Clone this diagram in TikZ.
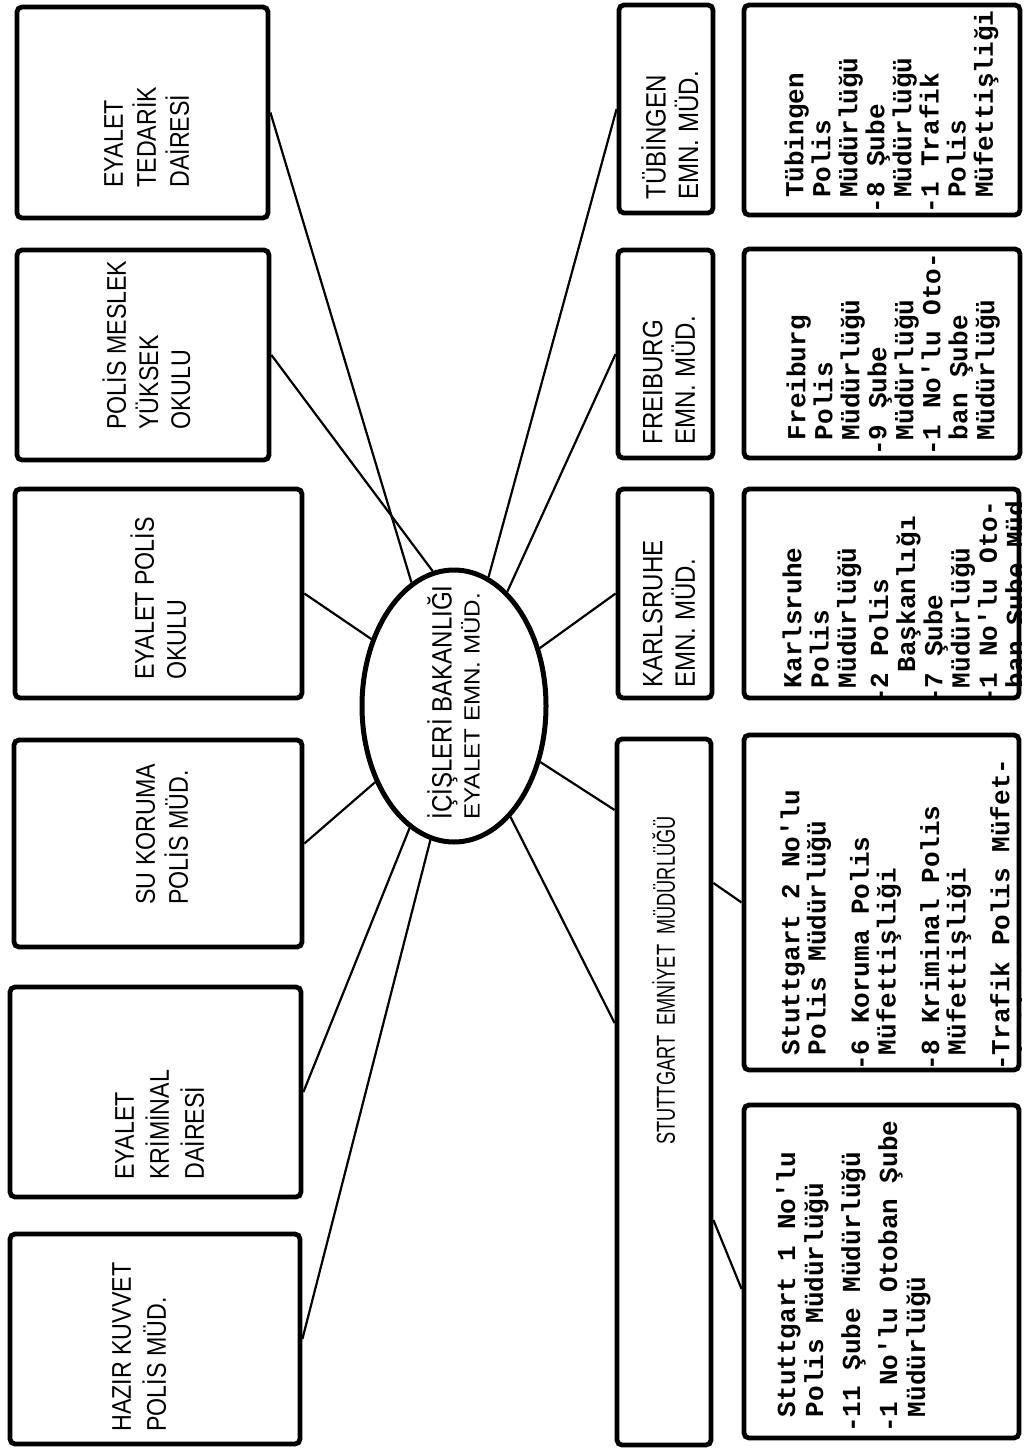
\documentclass[tikz,border=0pt]{standalone}
\usepackage{fontspec}
\usepackage{graphicx}
\setmainfont{Liberation Sans}
\newfontfamily\condf[FakeStretch=0.86]{Liberation Sans}
\newfontfamily\narrowf[FakeStretch=0.7]{Liberation Sans}
\newfontfamily\widef[FakeStretch=1.1]{Liberation Sans}
\newfontfamily\typef{Liberation Mono}
\usetikzlibrary{shapes.geometric,calc}
\newcommand\vtext[1]{\rotatebox{90}{#1}}
\newcommand\hp{\hphantom{-}}
\begin{document}
\begin{tikzpicture}[x=0.5pt,y=-0.5pt,
  box/.style={draw,line width=2.4pt,rounded corners=2.5pt,inner sep=0pt},
  link/.style={line width=1.1pt},
  lab/.style={inner sep=0pt,anchor=south west},
  sanslab/.style={lab,font=\condf\fontsize{13.5}{16}\selectfont},
  sanslabw/.style={lab,font=\condf\fontsize{13.5}{17.5}\selectfont},
  emnlab/.style={lab,font=\condf\fontsize{14}{15}\selectfont},
  typelab/.style={lab,font=\typef\bfseries\fontsize{13}{13.5}\selectfont},
]
\fill[white] (0,0) rectangle (1028,1455);
\useasboundingbox (0,0) rectangle (1028,1455);

% left column boxes
\node[box,minimum width=125.5pt,minimum height=105.5pt] (b1) at (142.5,112.5) {};
\node[box,minimum width=126pt,minimum height=105pt] (b2) at (143,355) {};
\node[box,minimum width=143.5pt,minimum height=104.5pt] (b3) at (158.5,593.5) {};
\node[box,minimum width=144pt,minimum height=103.5pt] (b4) at (158,843.5) {};
\node[box,minimum width=145.5pt,minimum height=105pt] (b5) at (155.5,1092) {};
\node[box,minimum width=145pt,minimum height=105pt] (b6) at (155,1339) {};

\node[sanslab] (b1t) at (100,188) {\vtext{\begin{tabular}{@{}l@{}}EYALET\\TEDARİK\\DAİRESİ\end{tabular}}};
\node[sanslab] (b2t) at (102,430) {\vtext{\begin{tabular}{@{}l@{}}POLİS MESLEK\\YÜKSEK\\OKULU\end{tabular}}};
\node[sanslab] (b3t) at (130,680) {\vtext{\begin{tabular}{@{}l@{}}EYALET POLİS\\OKULU\end{tabular}}};
\node[sanslab] (b4t) at (132,905) {\vtext{\begin{tabular}{@{}l@{}}SU KORUMA\\POLİS MÜD.\end{tabular}}};
\node[sanslabw] (b5t) at (109,1180) {\vtext{\begin{tabular}{@{}l@{}}EYALET\\KRİMİNAL\\DAİRESİ\end{tabular}}};
\node[sanslabw] (b6t) at (106,1432) {\vtext{\begin{tabular}{@{}l@{}}HAZIR KUVVET\\POLİS MÜD.\end{tabular}}};

% central ellipse
\node[draw,ellipse,line width=2.5pt,minimum width=92pt,minimum height=136pt,inner sep=0pt] (ell) at (454,706) {};
\node[lab] (ellt) at (427,820) {\vtext{\fontsize{14}{14}\selectfont\begin{tabular}{@{}l@{}}\condf İÇİŞLERİ BAKANLIĞI\\\widef\fontsize{11}{14}\selectfont EYALET EMN. MÜD.\end{tabular}}};

% emniyet boxes
\node[box,minimum width=47pt,minimum height=104pt] (e1) at (666,109) {};
\node[box,minimum width=47.5pt,minimum height=104pt] (e2) at (665.5,354) {};
\node[box,minimum width=47pt,minimum height=104.5pt] (e3) at (665,593.5) {};
\node[box,minimum width=47pt,minimum height=353pt] (e4) at (664,1092) {};

\node[emnlab] (e1t) at (641,200) {\vtext{\begin{tabular}{@{}l@{}}TÜBİNGEN\\EMN. MÜD.\end{tabular}}};
\node[emnlab] (e2t) at (641,445) {\vtext{\begin{tabular}{@{}l@{}}FREIBURG\\EMN. MÜD.\end{tabular}}};
\node[emnlab] (e3t) at (641,688) {\vtext{\begin{tabular}{@{}l@{}}KARLSRUHE\\EMN. MÜD.\end{tabular}}};
\node[lab,font=\narrowf\fontsize{13}{14}\selectfont] (e4t) at (652,1145) {\vtext{STUTTGART\ \ EMNİYET\ \ MÜDÜRLÜĞÜ}};

% polis boxes
\node[box,minimum width=138pt,minimum height=105pt] (p1) at (882,110) {};
\node[box,minimum width=138pt,minimum height=104.5pt] (p2) at (882,353.5) {};
\node[box,minimum width=137.5pt,minimum height=104.5pt] (p3) at (881.5,593.5) {};
\node[box,minimum width=137.5pt,minimum height=167.5pt] (p4) at (881.5,902.5) {};
\node[box,minimum width=137.5pt,minimum height=166.5pt] (p5) at (881.5,1271.5) {};

\begin{scope}
\clip (p1.south west) rectangle (p1.north east);
\node[typelab] (p1t) at (784,214) {\vtext{\begin{tabular}{@{}l@{}}\hp Tübingen\\\hp Polis\\\hp Müdürlüğü\\-8 Şube\\\hp Müdürlüğü\\-1 Trafik\\\hp Polis\\\hp Müfettişliği\end{tabular}}};
\end{scope}
\begin{scope}
\clip (p2.south west) rectangle (p2.north east);
\node[typelab] (p2t) at (786,456) {\vtext{\begin{tabular}{@{}l@{}}\hp Freiburg\\\hp Polis\\\hp Müdürlüğü\\-9 Şube\\\hp Müdürlüğü\\-1 No'lu Oto-\\\hp ban Şube\\\hp Müdürlüğü\end{tabular}}};
\end{scope}
\begin{scope}
\clip (p3.south west) rectangle (p3.north east);
\node[lab,font=\typef\bfseries\fontsize{13}{13.6}\selectfont] (p3t) at (782,704) {\vtext{\begin{tabular}{@{}l@{}}\hp Karlsruhe\\\hp Polis\\\hp Müdürlüğü\\[2.5pt]-2 Polis\\\hp\hp Başkanlığı\\-7 Şube\\\hp Müdürlüğü\\-1 No'lu Oto-\\\hp ban Şube Müd\end{tabular}}};
\end{scope}
\begin{scope}
\clip (p4.south west) rectangle (p4.north east);
\node[lab,font=\typef\bfseries\fontsize{13}{12.5}\selectfont] (p4t) at (780,1071) {\vtext{\begin{tabular}{@{}l@{}}\hp Stuttgart 2 No'lu\\\hp Polis Müdürlüğü\\[8.5pt]-6 Koruma Polis\\\hp Müfettişliği\\[8.5pt]-8 Kriminal Polis\\\hp Müfettişliği\\[8.5pt]-Trafik Polis Müfet-\\\hp tişliği\end{tabular}}};
\end{scope}
\begin{scope}
\clip (p5.south west) rectangle (p5.north east);
\node[lab,font=\typef\bfseries\fontsize{13}{14}\selectfont] (p5t) at (775,1433) {\vtext{\begin{tabular}{@{}l@{}}\hp Stuttgart 1 No'lu\\\hp Polis Müdürlüğü\\[4.5pt]-11 Şube Müdürlüğü\\[4.5pt]-1 No'lu Otoban Şube\\\hp Müdürlüğü\end{tabular}}};
\end{scope}

% connectors
\draw[link] (b1.east) -- (ell.109);
\draw[link] (b2.east) -- (ell.99);
\draw[link] (b3.east) -- (ell.141);
\draw[link] (b4.east) -- (ell.224);
\draw[link] (b5.east) -- (ell.250);
\draw[link] (b6.east) -- (ell.260);
\draw[link] (e1.west) -- (ell.75);
\draw[link] (e2.west) -- (ell.65);
\draw[link] (e3.west) -- (ell.34);
\draw[link] ([yshift=141pt]e4.west) -- (ell.327);
\draw[link] ([yshift=34.5pt]e4.west) -- (ell.297);
\draw[link] ([yshift=104.5pt]e4.east) -- (p4.west);
\draw[link] ([yshift=-64pt]e4.east) -- ([yshift=-8.75pt]p5.west);
\end{tikzpicture}
\end{document}
